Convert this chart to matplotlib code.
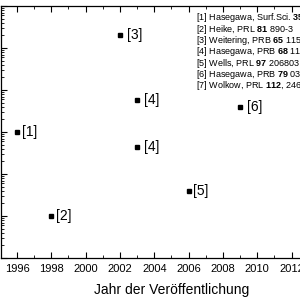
import matplotlib
matplotlib.use('Agg')
import matplotlib.pyplot as plt
from matplotlib.ticker import LogLocator, MultipleLocator, NullFormatter

plt.rcParams['font.family'] = ['Liberation Sans', 'DejaVu Sans']
plt.rcParams['mathtext.fontset'] = 'custom'
plt.rcParams['mathtext.rm'] = 'Liberation Sans'
plt.rcParams['mathtext.bf'] = 'Liberation Sans:bold'

# data (y axis labels are cut off, decades assumed 1..1e6)
years = [1996, 1998, 2002, 2003, 2003, 2006, 2009]
values = [1.0e3, 1.0e1, 2.0e5, 5.7e3, 4.4e2, 39, 3.9e3]
labels = ['[1]', '[2]', '[3]', '[4]', '[4]', '[5]', '[6]']
label_offsets = [3.5, 3.5, 5, 5, 5, 3.5, 5]

refs = [r'[1] Hasegawa, Surf.Sci. $\mathbf{357}$/$\mathbf{358}$, 514',
        r'[2] Heike, PRL $\mathbf{81}$ 890-3',
        r'[3] Weitering, PRB $\mathbf{65}$ 115420',
        r'[4] Hasegawa, PRB $\mathbf{68}$ 113303',
        r'[5] Wells, PRL $\mathbf{97}$ 206803',
        r'[6] Hasegawa, PRB $\mathbf{79}$ 033304',
        r'[7] Wolkow, PRL $\mathbf{112}$, 246801']

fig = plt.figure(figsize=(3, 3), dpi=100)
ax = fig.add_axes([0.7 / 300, 42 / 300, 342.3 / 300, 252 / 300])

ax.plot(years, values, 's', color='black', markersize=3.5)
for x, y, lab, off in zip(years, values, labels, label_offsets):
    ax.annotate(lab, (x, y), xytext=(off, 0), textcoords='offset points',
                va='center', ha='left', fontsize=10)

ax.set_yscale('log')
ax.set_ylim(1, 1e6)
ax.set_xlim(1995.05, 2015)
ax.xaxis.set_major_locator(MultipleLocator(2))
ax.xaxis.set_minor_locator(MultipleLocator(1))
ax.yaxis.set_major_locator(LogLocator(base=10, numticks=10))
ax.yaxis.set_minor_locator(LogLocator(base=10, subs=range(2, 10), numticks=10))
ax.yaxis.set_major_formatter(NullFormatter())
ax.yaxis.set_minor_formatter(NullFormatter())
ax.tick_params(which='both', direction='in', top=True, right=True, labelsize=8, pad=4)
ax.tick_params(which='major', length=4, width=0.8)
ax.tick_params(which='minor', length=2.5, width=0.6)
for s in ax.spines.values():
    s.set_linewidth(0.9)

ax.set_xlabel('Jahr der Veröffentlichung', fontsize=10, labelpad=7)

for i, r in enumerate(refs):
    fig.text(196 / 300, 1 - (18 + i * 11.3) / 300, r, fontsize=6.5, va='center', ha='left')

fig.savefig('out.png', dpi=100)
